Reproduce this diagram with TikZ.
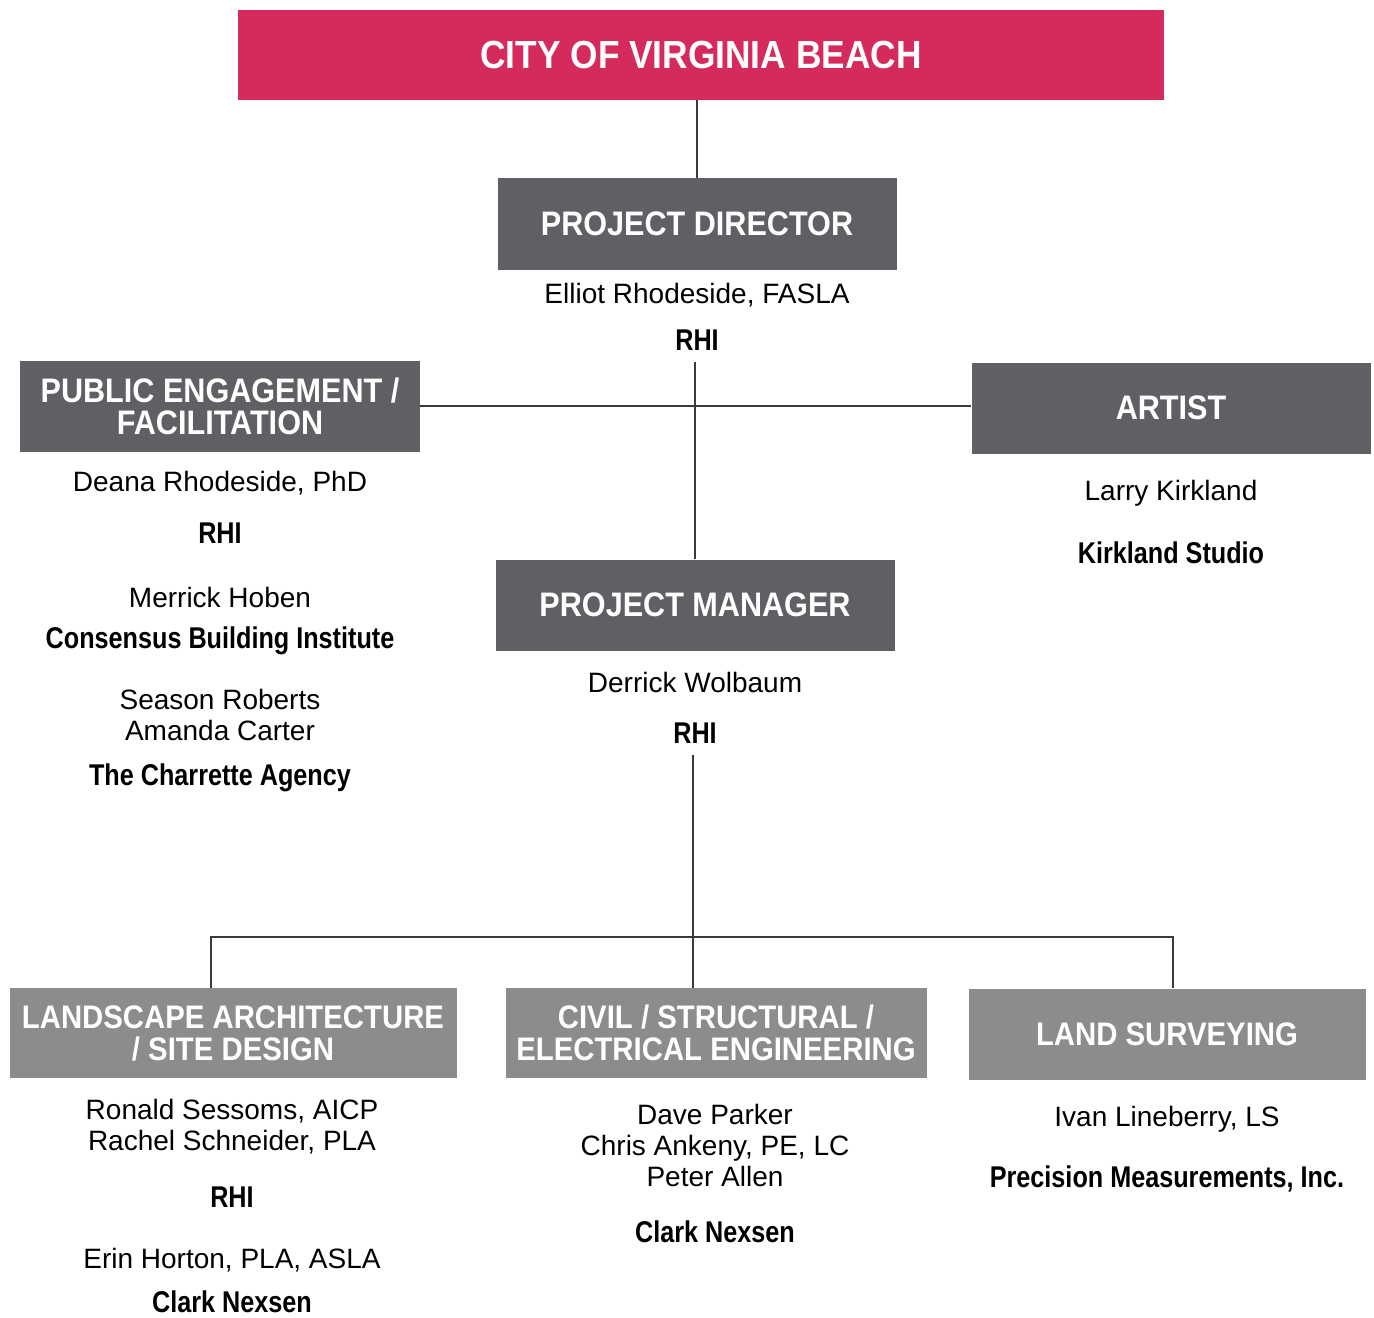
\documentclass[tikz,border=0pt]{standalone}
\usepackage{fontspec}
\setmainfont{Liberation Sans}
\newfontfamily\headfont[FakeStretch=0.9]{Liberation Sans Bold}
\newfontfamily\orgfont[FakeStretch=0.84]{Liberation Sans Bold}
\definecolor{cityred}{HTML}{D52A5C}
\definecolor{darkgray}{HTML}{5F6064}
\definecolor{lightgray}{HTML}{8B8C8E}
\definecolor{linegray}{HTML}{3A3A3A}
\tikzset{
	headbox/.style={fill=#1, text=white, font=\headfont\fontsize{17}{16}\selectfont, align=center, inner sep=0pt},
	lowbox/.style={headbox=lightgray, font=\headfont\fontsize{16.3}{16}\selectfont},
	person/.style={font=\fontsize{14}{15.5}\selectfont, align=center, inner sep=0pt},
	org/.style={font=\orgfont\fontsize{15}{17}\selectfont, align=center, inner sep=0pt},
	link/.style={draw=linegray, line width=0.6pt}
}
\begin{document}
\begin{tikzpicture}[x=0.5pt, y=-0.5pt]
		\def\u{0.5pt}
		\useasboundingbox (0,0) rectangle (1374,1317);
		\node[headbox=cityred, minimum width={926*\u}, minimum height={90*\u}, font=\headfont\fontsize{19.6}{18}\selectfont] (city) at (701,55) {CITY OF VIRGINIA BEACH};
		\node[headbox=darkgray, minimum width={399*\u}, minimum height={92*\u}] (director) at (697,224) {PROJECT DIRECTOR};
		\node[person] (directorname) at (697,295) {Elliot Rhodeside, FASLA};
		\node[org] (directororg) at (697,340) {RHI};
		\node[headbox=darkgray, minimum width={400*\u}, minimum height={91*\u}] (public) at (220,406) {PUBLIC ENGAGEMENT /\\FACILITATION};
		\node[headbox=darkgray, minimum width={399*\u}, minimum height={91*\u}] (artist) at (1171,408) {ARTIST};
		\node[person] (publicnameA) at (220,483) {Deana Rhodeside, PhD};
		\node[org] (publicorgA) at (220,533) {RHI};
		\node[person] (publicnameB) at (220,597) {Merrick Hoben};
		\node[org] (publicorgB) at (220,641) {Consensus Building Institute};
		\node[person] (publicnameC) at (220,715) {Season Roberts\\Amanda Carter};
		\node[org] (publicorgC) at (220,778) {The Charrette Agency};
		\node[person] (artistname) at (1171,493) {Larry Kirkland};
		\node[org] (artistorg) at (1171,553) {Kirkland Studio};
		\node[headbox=darkgray, minimum width={399*\u}, minimum height={91*\u}] (manager) at (695,605) {PROJECT MANAGER};
		\node[person] (managername) at (695,682) {Derrick Wolbaum};
		\node[org] (managerorg) at (695,733) {RHI};
		\node[lowbox, minimum width={447*\u}, minimum height={90*\u}] (landscape) at (233,1033) {LANDSCAPE ARCHITECTURE\\/ SITE DESIGN};
		\node[lowbox, minimum width={421*\u}, minimum height={90*\u}] (civil) at (716,1033) {CIVIL / STRUCTURAL /\\ELECTRICAL ENGINEERING};
		\node[lowbox, minimum width={397*\u}, minimum height={91*\u}] (survey) at (1167,1034) {LAND SURVEYING};
		\node[person] (landscapenameA) at (232,1127) {Ronald Sessoms, AICP\\Rachel Schneider, PLA};
		\node[org] (landscapeorgA) at (232,1197) {RHI};
		\node[person] (landscapenameB) at (232,1260) {Erin Horton, PLA, ASLA};
		\node[org] (landscapeorgB) at (232,1302) {Clark Nexsen};
		\node[person] (civilname) at (715,1145) {Dave Parker\\Chris Ankeny, PE, LC\\Peter Allen};
		\node[org] (civilorg) at (715,1232) {Clark Nexsen};
		\node[person] (surveyname) at (1167,1119) {Ivan Lineberry, LS};
		\node[org] (surveyorg) at (1167,1179) {Precision Measurements, Inc.};
		\coordinate (bus) at (693,937);
		\draw[link] (city.south -| director.north) -- (director.north);
		\draw[link] ([yshift={-11*\u}]directororg.south -| manager.north) -- (manager.north);
		\draw[link] (public.east) -- (public.east -| artist.west);
		\draw[link] ([yshift={-11*\u}]managerorg.south -| bus) -- (bus |- civil.north);
		\draw[link] (landscape.north -| 211,0) |- (bus) -| (survey.north -| 1173,0);
	\end{tikzpicture}
\end{document}
